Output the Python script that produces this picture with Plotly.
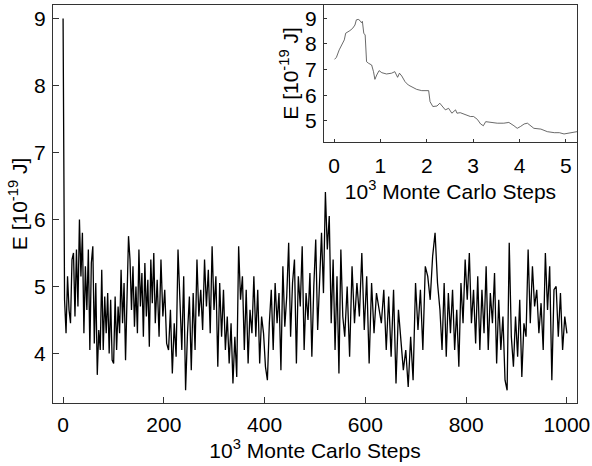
"""
Energy relaxation during a Monte Carlo run: long run (main panel, 10^3 steps
up to 1000) with an inset showing the first ~5000 steps.
"""
import numpy as np
import plotly.graph_objects as go

# Main panel: energy values, grouped by step window.
SEG_EDGES = [0, 183, 371, 559, 748, 923, 1000]

E_SEG1 = [9.0,
          4.8, 4.3, 5.15, 4.65, 4.45, 5.4,
          5.5, 4.55, 5.55, 4.7, 6.0, 5.15, 5.8,
          4.3, 5.3, 4.65, 5.55, 4.05, 5.35, 5.6,
          4.15, 5.05, 3.68, 4.35, 4.05, 5.25,
          4.05, 4.85, 4.3, 4.9, 4.0, 4.8, 3.9,
          3.85, 4.85, 4.05, 4.7, 4.3,
          5.25, 4.45, 5.05, 3.9, 4.9, 5.75,
          5.4, 4.65, 5.3, 4.4, 5.0, 4.3, 5.55,
          4.7, 5.2, 4.25, 5.35, 4.55, 5.1, 4.1, 5.4, 4.75, 5.5]
E_SEG2 = [4.45, 5.1, 4.25, 5.4, 4.55, 4.95, 4.15,
          4.05, 4.65, 3.7, 4.45, 3.95, 5.55,
          4.8, 4.05, 5.15, 3.45,
          4.3, 4.85, 3.75, 4.9, 4.05, 5.4, 4.55, 4.95,
          4.35, 5.4, 4.7, 5.25, 4.3, 5.6, 4.65,
          5.15, 3.8, 5.05, 4.25, 4.95, 4.05, 4.55,
          3.85, 4.45, 3.55, 4.25, 3.65, 5.6, 4.8,
          5.15, 4.05, 4.95, 3.85]
E_SEG3 = [4.65, 4.3,
          5.15, 4.25, 4.95, 3.85, 4.55,
          4.3, 3.8, 3.6, 4.45,
          4.95, 4.05, 5.05, 4.45, 4.9, 3.75,
          5.3, 4.4, 4.85, 5.65, 4.25, 5.05,
          5.4, 3.85, 5.15, 4.7, 5.6, 4.05, 4.9,
          4.5, 5.2, 3.95, 5.0, 5.7, 4.35, 5.15,
          5.8, 4.9, 6.41, 5.55, 6.05, 4.45,
          5.4, 4.05, 5.15, 3.7, 5.55, 4.55]
E_SEG4 = [4.25, 5.0, 3.95,
          5.3, 4.45, 5.05, 4.55, 5.5, 4.35, 5.15, 3.85,
          5.05, 4.3, 4.9, 4.65, 4.45, 4.95, 4.05,
          4.85, 3.95, 4.95, 3.55, 4.65, 4.25, 3.75,
          4.05, 3.5, 4.25, 3.6,
          5.05, 4.35, 4.95, 4.05, 5.3,
          5.15, 4.8, 5.45, 5.8, 5.05]
E_SEG5 = [4.65,
          4.05, 5.05, 3.95, 4.9, 4.3, 4.95, 4.05,
          4.65, 3.8, 5.05, 4.45, 5.4,
          4.8, 5.5, 4.45, 4.95, 4.15, 5.15, 4.05,
          4.95, 4.3, 5.3, 4.05, 4.9, 4.45,
          5.2, 3.85, 4.8, 4.05, 4.55, 3.6,
          3.45, 5.65, 4.25, 3.8,
          4.55, 3.95, 4.8, 3.65, 4.45, 4.25]
E_SEG6 = [5.55, 4.45, 5.3, 4.7,
          4.95, 4.3, 4.75, 4.05,
          5.5, 4.65, 5.3, 3.6, 4.95,
          5.0, 4.25, 4.9, 4.05, 4.55, 4.3]

# Inset: first ~5200 steps (in 10^3 steps)
INSET_STEPS = [0.01, 0.05, 0.11, 0.16, 0.22, 0.25, 0.28, 0.34, 0.40, 0.45,
               0.48, 0.52, 0.56, 0.59, 0.61, 0.64, 0.67, 0.70, 0.74, 0.81,
               0.85, 0.88, 0.92, 0.97, 1.03, 1.13, 1.24, 1.31, 1.37, 1.41,
               1.46, 1.53, 1.60, 1.68, 1.78, 1.89, 1.99, 2.04, 2.07, 2.13,
               2.22, 2.28, 2.33, 2.40, 2.47, 2.54, 2.62, 2.65, 2.72, 2.83,
               2.94, 3.01, 3.09, 3.16, 3.22, 3.27, 3.37, 3.52, 3.66, 3.77,
               3.88, 3.95, 4.02, 4.10, 4.17, 4.24, 4.31, 4.46, 4.60, 4.75,
               4.86, 4.96, 5.07, 5.14, 5.24]
INSET_E = [7.40, 7.48, 7.77, 7.96, 8.16, 8.42, 8.45, 8.52, 8.61, 8.74,
           8.94, 8.96, 8.91, 8.83, 8.88, 8.42, 8.35, 7.31, 7.25, 7.18,
           6.92, 6.62, 6.79, 6.96, 6.88, 6.83, 6.86, 6.92, 6.70, 6.86,
           6.75, 6.53, 6.40, 6.31, 6.23, 6.18, 6.18, 6.18, 5.75, 5.56,
           5.58, 5.69, 5.58, 5.43, 5.49, 5.30, 5.43, 5.30, 5.32, 5.23,
           5.17, 5.17, 5.06, 4.88, 4.81, 4.97, 4.94, 4.91, 4.91, 4.94,
           4.81, 4.71, 4.78, 4.88, 4.91, 4.81, 4.71, 4.68, 4.58, 4.54,
           4.54, 4.49, 4.52, 4.55, 4.58]

X_TITLE = "10<sup>3</sup> Monte Carlo Steps"
Y_TITLE = "E [10<sup>-19</sup> J]"
FONT = "Liberation Sans, Arial, sans-serif"
LINE = "#333333"


def main_series():
    segs = [E_SEG1, E_SEG2, E_SEG3, E_SEG4, E_SEG5, E_SEG6]
    xs, ys = [], []
    for i, seg in enumerate(segs):
        lo, hi = SEG_EDGES[i], SEG_EDGES[i + 1]
        last = i == len(segs) - 1
        xs.extend(np.linspace(lo, hi, len(seg), endpoint=last))
        ys.extend(seg)
    return xs, ys


steps, energy = main_series()

fig = go.Figure()
fig.add_trace(go.Scatter(x=steps, y=energy, mode="lines",
                         line=dict(color="black", width=1.3),
                         showlegend=False, xaxis="x", yaxis="y"))
fig.add_trace(go.Scatter(x=INSET_STEPS, y=INSET_E, mode="lines",
                         line=dict(color="#444444", width=0.8),
                         showlegend=False, xaxis="x2", yaxis="y2"))

common = dict(showgrid=False, zeroline=False, showline=True, automargin=False,
              linecolor=LINE, linewidth=1, ticks="inside", tickcolor=LINE,
              tickfont=dict(size=21, color="black"))
title_font = dict(family=FONT, size=21, color="black")

fig.update_layout(
    template="none",
    width=592, height=466,
    margin=dict(l=53, r=15, t=5, b=63),
    paper_bgcolor="white", plot_bgcolor="white",
    font=dict(family=FONT, size=20, color="black"),
    xaxis=dict(domain=[0, 1], range=[-20, 1020], tickvals=[0, 200, 400, 600, 800, 1000],
               mirror=True, ticklen=6, ticklabelstandoff=3,
               title=dict(text=X_TITLE, standoff=6, font=title_font), **common),
    yaxis=dict(domain=[0, 1], range=[3.26, 9.2], tickvals=[4, 5, 6, 7, 8, 9],
               mirror=True, ticklen=6, ticklabelstandoff=2,
               title=dict(text=Y_TITLE, standoff=0, font=title_font), **common),
    xaxis2=dict(domain=[0.517, 1], anchor="y2", range=[-0.22, 5.24],
                tickvals=[0, 1, 2, 3, 4, 5], ticklen=3, ticklabelstandoff=5,
                title=dict(text=X_TITLE, standoff=2, font=title_font), **common),
    yaxis2=dict(domain=[0.656, 1], anchor="x2", range=[4.18, 9.52],
                tickvals=[5, 6, 7, 8, 9], ticklen=3, ticklabelstandoff=2,
                title=dict(text=Y_TITLE, standoff=0, font=title_font), **common),
)

# the page body carries a default 8px margin; drop it so the figure sits at 0,0
fig.write_html("out.html", config={"displayModeBar": False},
               post_script="document.body.style.margin='0';")
